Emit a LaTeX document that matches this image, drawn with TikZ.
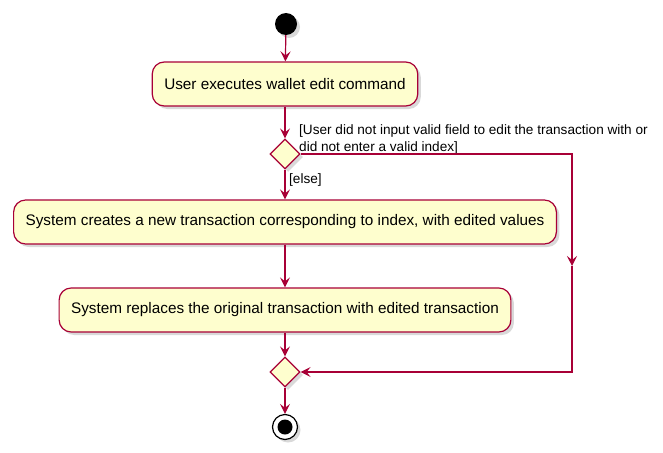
\documentclass[tikz,border=0pt]{standalone}
\usepackage{fontspec}
\setmainfont{Liberation Sans}
\usetikzlibrary{arrows.meta,shapes.geometric,shadows}
\definecolor{umlred}{HTML}{A80036}
\definecolor{umlfill}{HTML}{FEFECE}

\begin{document}
\begin{tikzpicture}[x=1pt,y=-1pt,
		shade/.style={drop shadow={shadow xshift=3pt,shadow yshift=-3pt,opacity=0.3}},
		act/.style={draw=umlred,fill=umlfill,line width=1.2pt,rounded corners=12pt,minimum height=44pt,inner xsep=12pt,font=\fontsize{15.3}{18}\selectfont,shade},
		branch/.style={diamond,draw=umlred,fill=umlfill,line width=1.2pt,minimum size=30pt,inner sep=0pt,shade},
		lbl/.style={font=\fontsize{13.6}{17}\selectfont,align=left,inner sep=1pt},
		flow/.style={draw=umlred,line width=1.2pt,-{Stealth[length=10pt,width=10pt,inset=4pt]}}]
		\useasboundingbox (0,0) rectangle (663,452);
		% start and actions
		\node[circle,fill=black,minimum size=22pt,inner sep=0pt,shade] (start) at (286,24) {};
		\node[act] (exec) at (285,84) {User executes wallet edit command};
		\node[branch] (check) at (285,154) {};
		\node[act] (create) at (285,222) {System creates a new transaction corresponding to index, with edited values};
		\node[act] (replace) at (285,310) {System replaces the original transaction with edited transaction};
		\node[branch] (merge) at (285,372) {};
		\node[circle,draw=black,fill=white,line width=1.2pt,minimum size=25pt,inner sep=0pt,shade] (stop) at (285,427) {};
		\fill[black] (stop.center) circle (7.5);
		% guards
		\node[lbl,anchor=west] (guard) at (298,139) {[User did not input valid field to edit the transaction with or\\did not enter a valid index]};
		\node[lbl,anchor=west] (other) at (288,180) {[else]};
		% connectors
		\draw[flow] (start) -- (exec);
		\draw[flow] (exec) -- (check);
		\draw[flow] (check) -- (create);
		\draw[flow] (create) -- (replace);
		\draw[flow] (replace) -- (merge);
		\draw[flow] (merge) -- (stop);
		\coordinate (rt) at (572,154);
		\coordinate (rm) at (572,266);
		\coordinate (rb) at (572,372);
		\draw[flow] (check.east) -- (rt) -- (rm);
		\draw[flow] (rm) -- (rb) -- (merge.east);
	\end{tikzpicture}
\end{document}
